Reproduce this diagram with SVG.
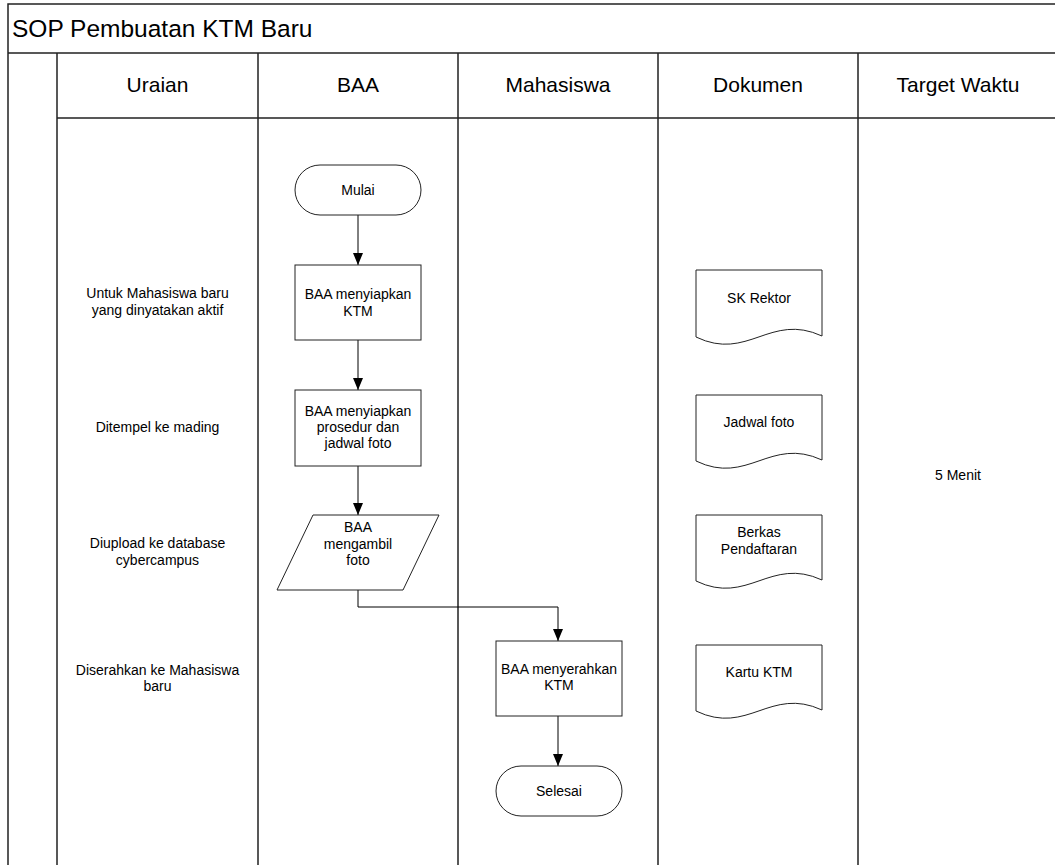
<svg xmlns="http://www.w3.org/2000/svg" width="1055" height="865" viewBox="0 0 1055 865">
  <style>
    .grid { stroke: #222; stroke-width: 1.5; fill: none; }
    .shape { fill: #fff; stroke: #222; stroke-width: 1; }
    .conn { fill: none; stroke: #000; stroke-width: 1; }
    text { font-family: "Liberation Sans", Arial, sans-serif; fill: #000; text-anchor: middle; }
    .title { font-size: 24.5px; text-anchor: start; }
    .head { font-size: 21px; }
    .lbl { font-size: 14px; }
  </style>
  <defs>
    <marker id="arrow" viewBox="0 0 12 10" refX="12" refY="5" markerWidth="12" markerHeight="10" markerUnits="userSpaceOnUse" orient="auto">
      <path d="M0,0 L12,5 L0,10 Z" fill="#000"/>
    </marker>
  </defs>

  <rect width="1055" height="865" fill="#fff"/>

  <!-- swimlane table -->
  <g id="table">
    <path class="grid" d="M8,865 V4 H1055 M8,53 H1055 M57,118 H1055"/>
    <path class="grid" d="M57,53 V865 M258,53 V865 M458,53 V865 M658,53 V865 M858,53 V865"/>
    <text class="title" x="12" y="37">SOP Pembuatan KTM Baru</text>
    <text class="head" x="157.5" y="92">Uraian</text>
    <text class="head" x="358" y="92">BAA</text>
    <text class="head" x="558" y="92">Mahasiswa</text>
    <text class="head" x="758" y="92">Dokumen</text>
    <text class="head" x="958" y="92">Target Waktu</text>
  </g>

  <!-- description column -->
  <g id="uraian">
    <text class="lbl" x="157.5" y="298">Untuk Mahasiswa baru</text>
    <text class="lbl" x="157.5" y="315">yang dinyatakan aktif</text>
    <text class="lbl" x="157.5" y="432">Ditempel ke mading</text>
    <text class="lbl" x="157.5" y="548">Diupload ke database</text>
    <text class="lbl" x="157.5" y="565">cybercampus</text>
    <text class="lbl" x="157.5" y="675">Diserahkan ke Mahasiswa</text>
    <text class="lbl" x="157.5" y="691">baru</text>
  </g>

  <!-- connectors -->
  <g id="connectors">
    <path class="conn" d="M358,215 V265" marker-end="url(#arrow)"/>
    <path class="conn" d="M358,340 V390" marker-end="url(#arrow)"/>
    <path class="conn" d="M358,466 V515" marker-end="url(#arrow)"/>
    <path class="conn" d="M358,590 V607 H558 V641" marker-end="url(#arrow)"/>
    <path class="conn" d="M558,716 V766" marker-end="url(#arrow)"/>
  </g>

  <!-- flow nodes -->
  <g id="mulai">
    <rect class="shape" x="295" y="165" width="126" height="50" rx="25" ry="25"/>
    <text class="lbl" x="358" y="195">Mulai</text>
  </g>
  <g id="siapkan-ktm">
    <rect class="shape" x="295" y="265" width="126" height="75"/>
    <text class="lbl" x="358" y="299">BAA menyiapkan</text>
    <text class="lbl" x="358" y="316">KTM</text>
  </g>
  <g id="siapkan-jadwal">
    <rect class="shape" x="295" y="390" width="126" height="76"/>
    <text class="lbl" x="358" y="416">BAA menyiapkan</text>
    <text class="lbl" x="358" y="432">prosedur dan</text>
    <text class="lbl" x="358" y="448">jadwal foto</text>
  </g>
  <g id="ambil-foto">
    <path class="shape" d="M313,515 H439 L403,590 H277 Z"/>
    <text class="lbl" x="358" y="532">BAA</text>
    <text class="lbl" x="358" y="549">mengambil</text>
    <text class="lbl" x="358" y="565">foto</text>
  </g>
  <g id="serahkan-ktm">
    <rect class="shape" x="496" y="641" width="126" height="75"/>
    <text class="lbl" x="559" y="674">BAA menyerahkan</text>
    <text class="lbl" x="559" y="690">KTM</text>
  </g>
  <g id="selesai">
    <rect class="shape" x="496" y="766" width="126" height="50" rx="25" ry="25"/>
    <text class="lbl" x="559" y="796">Selesai</text>
  </g>

  <!-- documents -->
  <g id="doc-sk-rektor">
    <path class="shape" d="M696,270 H822 V336 C770,312 748,362 696,337 Z"/>
    <text class="lbl" x="759" y="303">SK Rektor</text>
  </g>
  <g id="doc-jadwal-foto">
    <path class="shape" d="M696,395 H822 V460 C770,436 748,486 696,461 Z"/>
    <text class="lbl" x="759" y="427">Jadwal foto</text>
  </g>
  <g id="doc-berkas">
    <path class="shape" d="M696,515 H822 V580 C770,556 748,606 696,581 Z"/>
    <text class="lbl" x="759" y="537">Berkas</text>
    <text class="lbl" x="759" y="554">Pendaftaran</text>
  </g>
  <g id="doc-kartu-ktm">
    <path class="shape" d="M696,645 H822 V710 C770,686 748,736 696,711 Z"/>
    <text class="lbl" x="759" y="677">Kartu KTM</text>
  </g>

  <!-- time target -->
  <g id="target-waktu">
    <text class="lbl" x="958" y="480">5 Menit</text>
  </g>
</svg>
